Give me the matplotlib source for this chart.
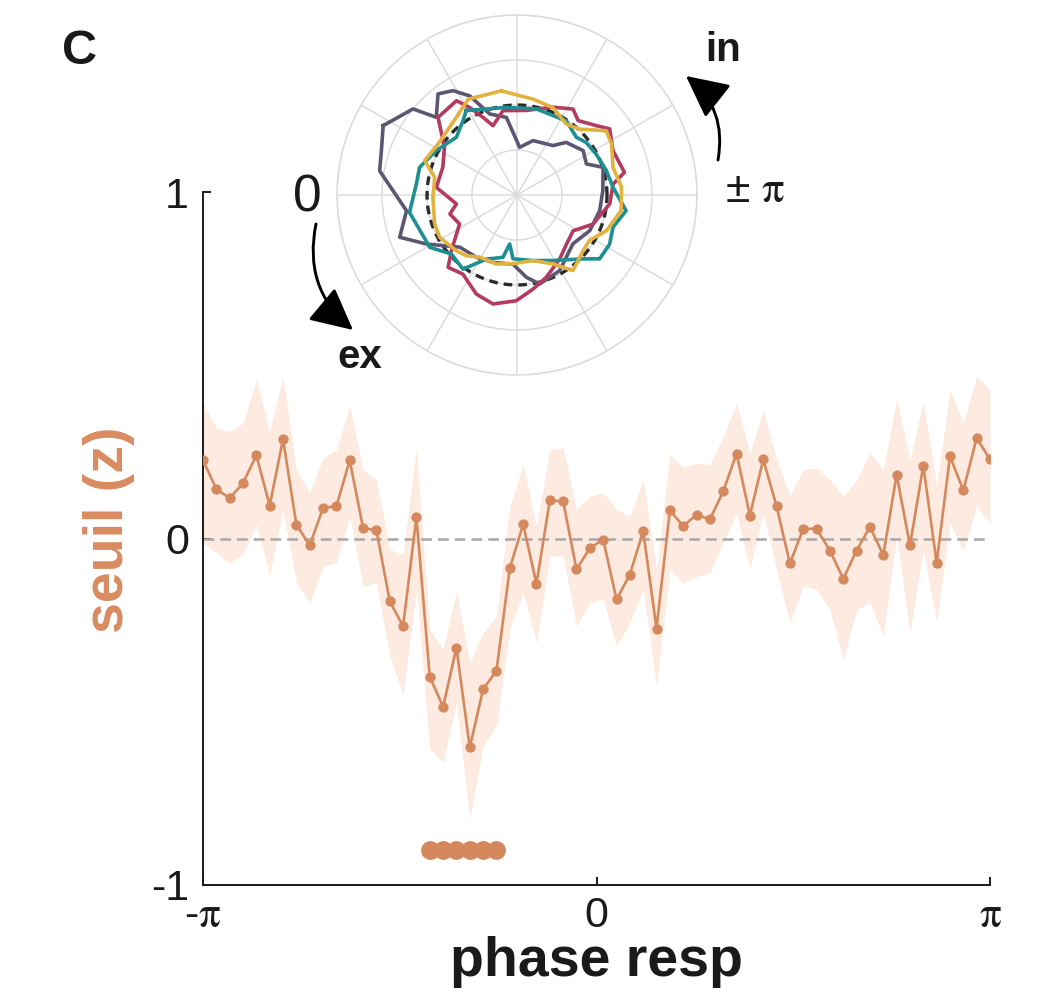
import numpy as np
import matplotlib
matplotlib.use("Agg")
import matplotlib.pyplot as plt
from matplotlib.patches import FancyArrowPatch

plt.rcParams['font.family'] = ['Liberation Sans', 'DejaVu Sans']
plt.rcParams['mathtext.fontset'] = 'stix'

# main curve: threshold (z) per response phase bin, 60 bins from -pi to pi
n_bins = 60
seuil = [0.226, 0.143, 0.116, 0.160, 0.240, 0.095, 0.287, 0.040, -0.020, 0.088,
         0.093, 0.226, 0.030, 0.024, -0.181, -0.253, 0.061, -0.399, -0.486, -0.315,
         -0.603, -0.435, -0.382, -0.086, 0.041, -0.131, 0.110, 0.107, -0.089, -0.028,
         -0.003, -0.176, -0.104, 0.021, -0.260, 0.081, 0.036, 0.069, 0.055, 0.136,
         0.245, 0.066, 0.228, 0.093, -0.072, 0.028, 0.028, -0.035, -0.116, -0.035,
         0.034, -0.048, 0.184, -0.020, 0.210, -0.070, 0.237, 0.139, 0.290, 0.228]
seuil_hi = [0.391, 0.319, 0.309, 0.333, 0.458, 0.309, 0.468, 0.199, 0.132, 0.232,
            0.256, 0.381, 0.199, 0.170, -0.032, -0.046, 0.261, -0.262, -0.320, -0.152,
            -0.358, -0.272, -0.224, 0.093, 0.213, 0.036, 0.256, 0.261, 0.084, 0.122,
            0.132, 0.084, 0.064, 0.170, -0.089, 0.242, 0.204, 0.218, 0.213, 0.295,
            0.391, 0.247, 0.372, 0.228, 0.122, 0.199, 0.204, 0.170, 0.122, 0.170,
            0.247, 0.199, 0.401, 0.228, 0.396, 0.151, 0.429, 0.333, 0.468, 0.429]
seuil_lo = [-0.013, -0.041, -0.070, -0.046, 0.040, -0.104, 0.084, -0.128, -0.185, -0.080,
            -0.070, 0.064, -0.137, -0.128, -0.339, -0.450, -0.147, -0.608, -0.646, -0.474,
            -0.810, -0.598, -0.541, -0.262, -0.157, -0.301, -0.051, -0.051, -0.253, -0.185,
            -0.176, -0.310, -0.243, -0.147, -0.426, -0.089, -0.128, -0.109, -0.099, -0.013,
            0.074, -0.089, 0.074, -0.089, -0.243, -0.137, -0.147, -0.205, -0.349, -0.205,
            -0.185, -0.281, 0.007, -0.272, -0.032, -0.243, 0.045, -0.037, 0.093, 0.045]
signif_bins = [17, 18, 19, 20, 21, 22]
signif_level = -0.9

# polar inset: angle (deg, screen orientation) and radius (ring units) per session
purple_ang = [152.6, 140.4, 136.1, 128.0, 121.5, 115.5, 108.6, 97.8, 86.8, 73.6,
              53.9, 46.9, 33.9, 24.1, 17.8, 2.9, -10.7, -26.1, -41.2, -60.6,
              -75.7, -83.5, -93.3, -109.6, -123.1, -137.6, -151.6, -160.2, -171.9, 170.0,
              161.9]
purple_r = [3.35, 3.00, 2.49, 2.85, 2.72, 2.44, 1.90, 1.74, 1.06, 1.26,
            1.36, 1.60, 1.77, 1.69, 2.01, 1.91, 1.87, 1.80, 1.65, 1.93,
            2.04, 1.84, 1.54, 1.59, 1.65, 1.72, 2.29, 2.77, 2.48, 3.10,
            3.17]
crimson_ang = [135.5, 122.7, 118.4, 113.6, 109.1, 99.4, 83.7, 67.7, 56.9, 50.6,
               41.2, 35.5, 24.8, 11.9, 6.5, -5.5, -20.9, -32.5, -44.8, -56.3,
               -70.4, -80.3, -90.4, -102.4, -112.3, -124.4, -133.6, -139.7, -153.2, -164.2,
               -171.6, 174.6, 159.5, 146.6]
crimson_r = [2.46, 2.49, 2.21, 1.88, 1.63, 1.90, 1.89, 2.11, 2.28, 2.14,
             2.34, 2.53, 2.35, 2.44, 2.15, 2.07, 1.81, 1.48, 1.55, 1.71,
             1.94, 2.12, 2.35, 2.48, 2.38, 2.13, 2.22, 1.91, 1.43, 1.55,
             1.36, 1.80, 1.76, 1.93]
teal_ang = [121.0, 109.6, 96.9, 77.3, 56.4, 44.2, 37.2, 27.3, 15.2, 4.6,
            -8.2, -18.6, -27.9, -37.7, -44.1, -61.3, -76.3, -93.6, -98.5, -102.7,
            -115.6, -126.1, -138.0, -149.0, -170.8, 173.8, 164.1, 151.2, 136.4, 126.0]
teal_r = [2.19, 2.03, 1.96, 1.96, 1.98, 1.84, 1.93, 1.98, 2.06, 2.14,
          2.45, 2.25, 2.33, 2.32, 2.04, 1.66, 1.50, 1.42, 1.10, 1.42,
          1.58, 2.04, 1.96, 2.26, 2.42, 2.25, 2.25, 2.05, 1.86, 2.04]
gold_ang = [98.5, 80.5, 67.7, 55.2, 46.5, 35.8, 28.4, 16.1, 4.2, -8.5,
            -21.8, -32.1, -40.1, -53.5, -62.4, -76.3, -93.3, -106.7, -121.0, -129.9,
            -137.5, -151.3, -160.6, -178.4, 167.9, 159.6, 147.2, 128.0, 117.0]
gold_r = [2.34, 2.16, 2.10, 1.92, 2.02, 2.44, 2.39, 2.22, 2.33, 2.34,
          2.14, 1.90, 1.92, 2.09, 1.73, 1.50, 1.53, 1.60, 1.61, 1.76,
          1.83, 1.96, 1.94, 1.87, 1.87, 2.19, 2.09, 2.19, 2.39]
uniform_r = 2.0

orange = "#d4885c"
shade = "#fdebe1"
ink = "#1a1a1a"

W, H = 1049, 1008
fig = plt.figure(figsize=(W / 100, H / 100), dpi=100)


def fx(px):
    return px / W


def fy(py):
    return 1 - py / H


# ---- main panel ----
ax = fig.add_axes([fx(203), fy(885), fx(990) - fx(203), fy(192) - fy(885)])
phase = np.linspace(-np.pi, np.pi, n_bins)

ax.fill_between(phase, seuil_lo, seuil_hi, color=shade, lw=0, zorder=1)
ax.axhline(0, color="#a8a8a8", lw=1.8, dashes=(4.3, 2.4), zorder=2)
ax.plot(phase, seuil, color=orange, lw=1.9, marker="o", ms=6.4, zorder=3)
ax.plot(phase[signif_bins], [signif_level] * len(signif_bins), "o",
        color=orange, ms=12.5, zorder=3)

ax.set_xlim(-np.pi, np.pi)
ax.set_ylim(-1, 1)
ax.set_xticks([-np.pi, 0, np.pi])
ax.set_xticklabels(["-$\\mathrm{\\pi}$", "0", "$\\mathrm{\\pi}$"])
ax.set_yticks([-1, 0, 1])
ax.set_yticklabels(["-1", "0", "1"])
ax.tick_params(direction="in", length=6, width=1.4, labelsize=31, colors=ink)
ax.tick_params(axis="x", pad=8)
ax.tick_params(axis="y", pad=10)
for s in ["top", "right"]:
    ax.spines[s].set_visible(False)
for s in ["left", "bottom"]:
    ax.spines[s].set_linewidth(1.4)
    ax.spines[s].set_color(ink)

ax.set_xlabel("phase resp", fontsize=40, fontweight="bold", color=ink)
ax.xaxis.set_label_coords(0.5, -0.074)
ax.set_ylabel("seuil (z)", fontsize=40, fontweight="bold", color="#d98b60")
ax.yaxis.set_label_coords(-0.087, 0.512)

# ---- polar inset ----
cx, cy, rad = 517, 195, 180
pax = fig.add_axes([fx(cx - rad), fy(cy + rad), fx(2 * rad), fy(cy - rad) - fy(cy + rad)],
                   projection="polar")
pax.set_facecolor("none")
pax.set_ylim(0, 4)
pax.set_yticks([1, 2, 3, 4])
pax.set_yticklabels([])
pax.set_xticks(np.deg2rad(np.arange(0, 360, 30)))
pax.set_xticklabels([])
pax.grid(True, color="#dcdcdc", lw=1.1)
pax.spines["polar"].set_color("#dcdcdc")
pax.spines["polar"].set_linewidth(1.1)


def closed(ang, r):
    a = np.deg2rad(list(ang) + [ang[0]])
    return a, list(r) + [r[0]]


t = np.linspace(0, 2 * np.pi, 200)
pax.plot(t, np.full_like(t, uniform_r), color="#2b2b2b", lw=2.4, dashes=(2.6, 1.8), zorder=3)
for ang, r, col in [(purple_ang, purple_r, "#5d5672"),
                    (crimson_ang, crimson_r, "#b23b5f"),
                    (teal_ang, teal_r, "#1d8f92"),
                    (gold_ang, gold_r, "#e2b23f")]:
    a, rr = closed(ang, r)
    pax.plot(a, rr, color=col, lw=2.6, zorder=4)

# ---- annotations ----
fig.text(fx(80), fy(52), "C", fontsize=35, fontweight="bold", ha="center", va="center",
         color=ink)
fig.text(fx(307), fy(198), "0", fontsize=37, ha="center", va="center", color=ink)
fig.text(fx(360), fy(357), "ex", fontsize=29, fontweight="bold", ha="center", va="center",
         color=ink)
fig.text(fx(723), fy(50), "in", fontsize=29, fontweight="bold", ha="center", va="center",
         color=ink)
fig.text(fx(755), fy(190), "± $\\mathrm{\\pi}$", fontsize=32, ha="center", va="center",
         color=ink)

for p0, p1, rr in [((316, 224), (353, 330), 0.3), ((718, 160), (686, 76), 0.3)]:
    arr = FancyArrowPatch((fx(p0[0]), fy(p0[1])), (fx(p1[0]), fy(p1[1])),
                          transform=fig.transFigure,
                          connectionstyle="arc3,rad=%s" % rr,
                          arrowstyle="-|>,head_length=1.3,head_width=0.65",
                          mutation_scale=20, lw=2.1, color="black",
                          shrinkA=0, shrinkB=0)
    fig.patches.append(arr)

fig.savefig("out.png", dpi=100)
